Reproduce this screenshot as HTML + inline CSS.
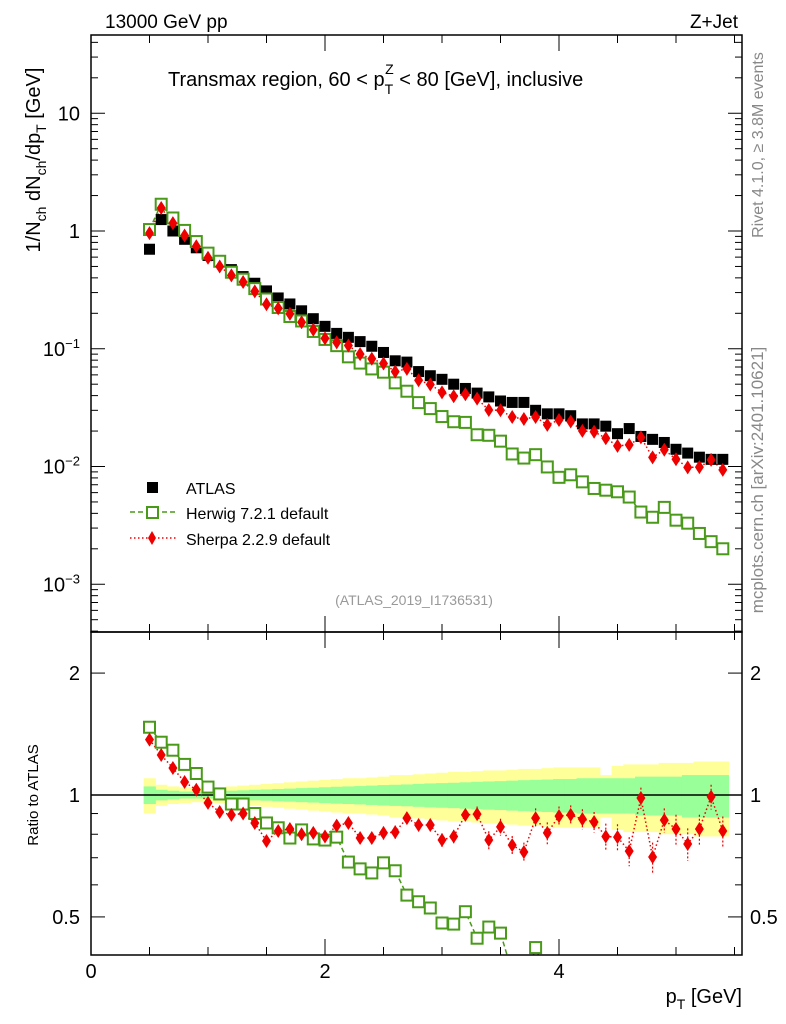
<!DOCTYPE html>
<html><head><meta charset="utf-8"><style>
html,body{margin:0;padding:0;width:786px;height:1024px;overflow:hidden;background:#fff}
svg{display:block;font-family:"Liberation Sans",sans-serif;overflow:hidden}
</style></head><body>
<svg id="c" width="786" height="1024" xmlns="http://www.w3.org/2000/svg">
<g id="bands"></g>
<line x1="91" x2="742" y1="795" y2="795" stroke="#000" stroke-width="1.5"/>
<g id="marks"></g>
<rect x="91" y="35" width="651" height="597" fill="none" stroke="#000" stroke-width="1.5"/>
<rect x="91" y="632" width="651" height="323" fill="none" stroke="#000" stroke-width="1.5"/>
<g id="ticks" stroke="#000" stroke-width="1"></g>
<text x="105" y="28" font-size="19">13000 GeV pp</text>
<text x="738" y="28" font-size="19" text-anchor="end">Z+Jet</text>
<text x="168" y="86" font-size="20">Transmax region, 60 &lt; p<tspan font-size="14" dy="8">T</tspan><tspan font-size="14" dx="-8" dy="-20">Z</tspan><tspan dy="12"> &lt; 80 [GeV], inclusive</tspan></text>
<text x="414" y="605" font-size="14" fill="#999" text-anchor="middle">(ATLAS_2019_I1736531)</text>
<text transform="translate(40,160) rotate(-90)" font-size="20" text-anchor="middle">1/N<tspan font-size="14" dy="6">ch</tspan><tspan dy="-6"> dN</tspan><tspan font-size="14" dy="6">ch</tspan><tspan dy="-6">/dp</tspan><tspan font-size="14" dy="6">T</tspan><tspan dy="-6"> [GeV]</tspan></text>
<text transform="translate(38,795) rotate(-90)" font-size="15" text-anchor="middle">Ratio to ATLAS</text>
<text x="742" y="1003" font-size="20" text-anchor="end">p<tspan font-size="14" dy="6">T</tspan><tspan dy="-6"> [GeV]</tspan></text>
<text transform="translate(763,145) rotate(-90)" font-size="16" fill="#888" text-anchor="middle">Rivet 4.1.0, ≥ 3.8M events</text>
<text transform="translate(763,480) rotate(-90)" font-size="17" fill="#888" text-anchor="middle">mcplots.cern.ch [arXiv:2401.10621]</text>
<g>
<rect x="147" y="482" width="11" height="11" fill="#000"/>
<text x="186" y="494" font-size="16">ATLAS</text>
<line x1="130" x2="176" y1="512" y2="512" stroke="#4a9a1a" stroke-width="1.5" stroke-dasharray="5,3"/>
<rect x="147" y="507" width="11" height="11" fill="#fff" stroke="#4a9a1a" stroke-width="2"/>
<text x="186" y="519" font-size="16">Herwig 7.2.1 default</text>
<line x1="130" x2="176" y1="538" y2="538" stroke="#e00" stroke-width="1.5" stroke-dasharray="1.5,2.5"/>
<polygon points="152,531 156,538 152,545 148,538" fill="#e00"/>
<text x="186" y="545" font-size="16">Sherpa 2.2.9 default</text>
</g>
</svg>
<script>
const pt=[0.5,0.6,0.7,0.8,0.9,1.0,1.1,1.2,1.3,1.4,1.5,1.6,1.7,1.8,1.9,2.0,2.1,2.2,2.3,2.4,2.5,2.6,2.7,2.8,2.9,3.0,3.1,3.2,3.3,3.4,3.5,3.6,3.7,3.8,3.9,4.0,4.1,4.2,4.3,4.4,4.5,4.6,4.7,4.8,4.9,5.0,5.1,5.2,5.3,5.4];
const atlas=[0.7,1.25,1.0,0.85,0.72,0.62,0.55,0.47,0.41,0.36,0.31,0.27,0.24,0.21,0.18,0.155,0.135,0.125,0.115,0.105,0.093,0.079,0.077,0.064,0.059,0.055,0.05,0.046,0.042,0.039,0.036,0.035,0.035,0.03,0.028,0.028,0.027,0.023,0.023,0.022,0.019,0.021,0.018,0.017,0.016,0.014,0.013,0.012,0.0115,0.0115];
const herwigRatio=[1.47,1.35,1.29,1.19,1.13,1.046,1.006,0.95,0.95,0.9,0.853,0.83,0.783,0.82,0.779,0.774,0.787,0.683,0.657,0.642,0.68,0.65,0.566,0.545,0.526,0.483,0.48,0.515,0.443,0.472,0.456,0.365,0.337,0.42,0.354,0.289,0.315,0.322,0.283,0.286,0.321,0.262,0.228,0.218,0.281,0.25,0.254,0.225,0.2,0.174];
const sherpaRatio=[1.37,1.255,1.166,1.077,1.03,0.956,0.908,0.893,0.9,0.853,0.77,0.815,0.824,0.8,0.806,0.79,0.84,0.853,0.783,0.783,0.806,0.81,0.877,0.843,0.843,0.774,0.79,0.893,0.897,0.774,0.834,0.752,0.723,0.877,0.806,0.887,0.893,0.872,0.858,0.79,0.787,0.727,0.983,0.703,0.867,0.824,0.757,0.824,0.99,0.815];
const sherpaErr=[0.02,0.02,0.02,0.02,0.02,0.02,0.02,0.02,0.02,0.02,0.02,0.02,0.02,0.02,0.02,0.02,0.02,0.02,0.02,0.02,0.03,0.03,0.03,0.03,0.03,0.03,0.03,0.03,0.04,0.04,0.04,0.04,0.04,0.05,0.05,0.05,0.05,0.05,0.05,0.06,0.06,0.06,0.06,0.06,0.06,0.07,0.07,0.07,0.07,0.07];
const statBand=[0.05,0.03,0.025,0.02,0.02,0.02,0.022,0.025,0.027,0.03,0.032,0.035,0.037,0.04,0.042,0.045,0.048,0.05,0.052,0.055,0.058,0.06,0.062,0.065,0.068,0.07,0.072,0.075,0.078,0.08,0.082,0.085,0.088,0.09,0.092,0.095,0.095,0.1,0.1,0.1,0.1,0.1,0.11,0.11,0.11,0.11,0.12,0.12,0.12,0.12];
const totBand=[0.1,0.06,0.05,0.045,0.04,0.04,0.045,0.05,0.055,0.06,0.065,0.07,0.075,0.08,0.085,0.09,0.095,0.1,0.1,0.105,0.11,0.12,0.12,0.125,0.13,0.135,0.14,0.14,0.145,0.15,0.15,0.155,0.16,0.16,0.165,0.17,0.17,0.17,0.17,0.12,0.18,0.19,0.19,0.19,0.2,0.2,0.2,0.21,0.21,0.21];
const mainTicks=[10,1,0.1,0.01,0.001];
const mainTickLabels=["10","1","10<tspan font-size='13' dy='-8'>−1</tspan>","10<tspan font-size='13' dy='-8'>−2</tspan>","10<tspan font-size='13' dy='-8'>−3</tspan>"];
const ratioTicks=[0.5,1,2];
const ratioTickLabels=["0.5","1","2"];
const xTicks=[0,2,4];

const NS="http://www.w3.org/2000/svg";
const X=v=>91+117*v;
const Y=v=>231-117.75*Math.log10(v);
const R=r=>795-405*Math.log10(r);
const RMIN=0.403;
function mk(tag,at,parent){const e=document.createElementNS(NS,tag);for(const k in at)e.setAttribute(k,at[k]);parent.appendChild(e);return e;}
const bands=document.getElementById('bands'),marks=document.getElementById('marks'),ticks=document.getElementById('ticks'),svg=document.getElementById('c');
const hw=0.05;
pt.forEach((p,i)=>{
 let e=mk('rect',{x:X(p-hw),y:R(1+totBand[i]),width:117*0.1+0.5,height:R(1-totBand[i])-R(1+totBand[i]),fill:'#ffff99'},bands);
 
 
});
pt.forEach((p,i)=>{
 let e=mk('rect',{x:X(p-hw),y:R(1+statBand[i]),width:117*0.1+0.5,height:R(1-statBand[i])-R(1+statBand[i]),fill:'#99ff99'},bands);
 
 
});
const herwig=pt.map((p,i)=>atlas[i]*herwigRatio[i]);
const sherpa=pt.map((p,i)=>atlas[i]*sherpaRatio[i]);
const defs=mk('defs',{},svg);
const cp=mk('clipPath',{id:'rc'},defs);mk('rect',{x:91,y:632,width:651,height:323},cp);
function line(vals,fy,color,dash,name,clip){
 let d='';vals.forEach((v,i)=>{d+=(i?'L':'M')+X(pt[i]).toFixed(1)+','+fy(v).toFixed(1);});
 const at={d:d,fill:'none',stroke:color,'stroke-width':1.5,'stroke-dasharray':dash};
 if(clip)at['clip-path']=clip;
 const e=mk('path',at,marks);
 
 
}
line(herwig,Y,'#4a9a1a','5,3','herwig-line','');
line(sherpa,Y,'#e00','1.5,2.5','sherpa-line','');
line(herwigRatio,R,'#4a9a1a','5,3','herwig-ratio-line','url(#rc)');
line(sherpaRatio,R,'#e00','1.5,2.5','sherpa-ratio-line','url(#rc)');
function sq(x,y,name){const e=mk('rect',{x:x-5.5,y:y-5.5,width:11,height:11,fill:'#fff',stroke:'#4a9a1a','stroke-width':2},marks);}
function dia(x,y,name){const e=mk('polygon',{points:`${x},${y-7} ${x+4.5},${y} ${x},${y+7} ${x-4.5},${y}`,fill:'#e00'},marks);}
pt.forEach((p,i)=>{
 const e=mk('rect',{x:X(p)-5.5,y:Y(atlas[i])-5.5,width:11,height:11,fill:'#000'},marks);
 
 
 sq(X(p),Y(herwig[i]),'herwig-point');
 dia(X(p),Y(sherpa[i]),'sherpa-point');
 if(herwigRatio[i]>RMIN) sq(X(p),R(herwigRatio[i]),'herwig-ratio-point');
 const eb=mk('line',{x1:X(p),x2:X(p),y1:R(sherpaRatio[i]+sherpaErr[i]),y2:R(sherpaRatio[i]-sherpaErr[i]),stroke:'#e00','stroke-width':1.2,'stroke-dasharray':'2,2'},marks);
 
 
 dia(X(p),R(sherpaRatio[i]),'sherpa-ratio-point');
});
function tk(x1,y1,x2,y2){const e=mk('line',{x1,y1,x2,y2},ticks);}
function lbl(x,y,html,anchor,size,name){const e=mk('text',{x,y,'text-anchor':anchor,'font-size':size,stroke:'none'},svg);e.innerHTML=html;}
for(let dec=-4;dec<=1;dec++){for(let m=1;m<10;m++){const v=m*Math.pow(10,dec);const y=Y(v);if(y<35||y>632)continue;const L=m==1?14:7;tk(91,y,91+L,y);tk(742,y,742-L,y);}}
mainTicks.forEach((v,i)=>lbl(80,Y(v)+7,mainTickLabels[i],'end',20,'y-tick-label'));
[0.5,0.6,0.7,0.8,0.9,1,2].forEach(v=>{const y=R(v);const L=(v==1||v==2||v==0.5)?14:7;tk(91,y,91+L,y);tk(742,y,742-L,y);});
ratioTicks.forEach((v,i)=>{lbl(80,R(v)+7,ratioTickLabels[i],'end',20,'ratio-tick-label');lbl(750,R(v)+7,ratioTickLabels[i],'start',20,'ratio-tick-label-right');});
for(let v=0;v<=5.5;v+=0.5){const x=X(v);const L=(v%2==0)?16:8;tk(x,632,x,632-L);tk(x,35,x,35+L);tk(x,955,x,955-L);tk(x,632,x,632+L);}
xTicks.forEach(v=>lbl(X(v),978,String(v),'middle',20,'x-tick-label'));
</script>
</body></html>
